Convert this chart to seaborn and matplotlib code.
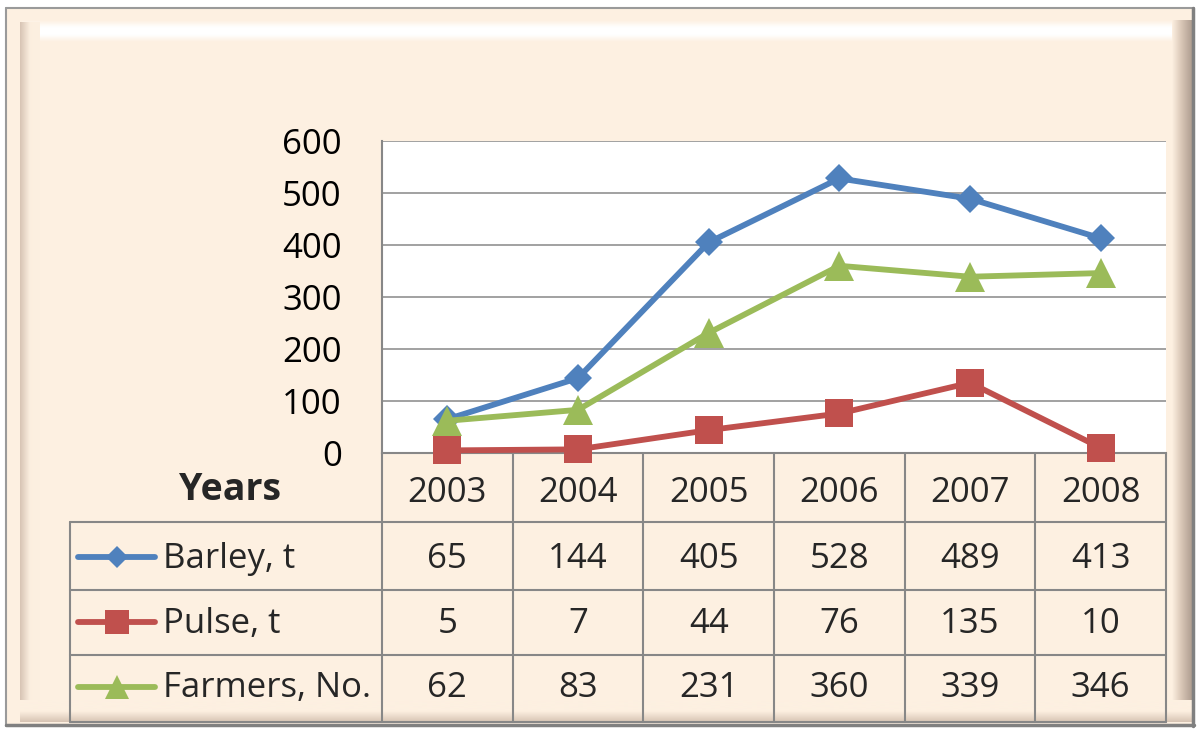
import numpy as np
import pandas as pd
import matplotlib
matplotlib.use("Agg")
import matplotlib.pyplot as plt
from matplotlib.lines import Line2D
import seaborn as sns

# ---------------- data ----------------
years = ["2003", "2004", "2005", "2006", "2007", "2008"]
series_names = ["Barley, t", "Pulse, t", "Farmers, No."]
barley = [65, 144, 405, 528, 489, 413]
pulse = [5, 7, 44, 76, 135, 10]
farmers = [62, 83, 231, 360, 339, 346]
y_ticks = [0, 100, 200, 300, 400, 500, 600]
header_label = "Years"

series_values = [barley, pulse, farmers]
colors = ["#4F81BD", "#C0504D", "#9BBB59"]
markers = ["D", "s", "^"]
msizes = [14.5, 20.5, 21]
leg_msizes = [11, 17, 17]

sns.set_style("white")
plt.rcParams["font.family"] = ["Open Sans", "DejaVu Sans"]

W, H = 1203, 733
fig = plt.figure(figsize=(W / 100, H / 100), dpi=100)
fig.patch.set_facecolor("white")

# background axes in pixel coordinates
bg = fig.add_axes([0, 0, 1, 1], zorder=0)
bg.set_xlim(0, W)
bg.set_ylim(H, 0)
bg.axis("off")

BEIGE = np.array([253, 240, 225]) / 255.0

# outer frame fill
bg.add_patch(plt.Rectangle((6, 8), 1188, 717, facecolor=BEIGE, edgecolor="none", zorder=0))


def grad_img(c_list, n=64, vertical=True):
    c = np.array(c_list)
    t = np.linspace(0, 1, n)
    pos = np.linspace(0, 1, len(c))
    arr = np.stack([np.interp(t, pos, c[:, k]) for k in range(3)], axis=-1)
    if vertical:
        return arr[:, None, :]
    return arr[None, :, :]


white = np.array([1.0, 1.0, 1.0])
tan = np.array([215, 196, 180]) / 255.0
dtan = np.array([175, 158, 145]) / 255.0
# top highlight band
bg.imshow(grad_img([BEIGE, white, white, BEIGE]), extent=(22, 1172, 42, 20),
          aspect="auto", origin="upper", zorder=1, interpolation="bilinear")
# left band
bg.imshow(grad_img([tan, BEIGE * 0.97 + 0.03 * tan, BEIGE], vertical=False), extent=(20, 40, 705, 22),
          aspect="auto", origin="upper", zorder=1, interpolation="bilinear")
# right band
bg.imshow(grad_img([BEIGE, tan, dtan], vertical=False), extent=(1172, 1192, 722, 20),
          aspect="auto", origin="upper", zorder=1, interpolation="bilinear")
# bottom band
bg.imshow(grad_img([BEIGE, BEIGE, tan]), extent=(20, 1192, 722, 700),
          aspect="auto", origin="upper", zorder=1, interpolation="bilinear")

frame_gray = "#808080"
bg.plot([6, 1194], [8, 8], color="#9a9a9a", lw=1.5, zorder=2)
bg.plot([6, 6], [8, 726], color="#9a9a9a", lw=1.5, zorder=2)
bg.plot([1193, 1193], [8, 726], color=frame_gray, lw=2.5, zorder=2)
bg.plot([6, 1194], [725, 725], color=frame_gray, lw=2.5, zorder=2)

# ---------------- main plot ----------------
L, R, T, B = 382, 1166, 141, 453
ax = fig.add_axes([L / W, 1 - B / H, (R - L) / W, (B - T) / H], zorder=2)
ax.set_facecolor("white")

for name, vals, col, mk, ms in zip(series_names, series_values, colors, markers, msizes):
    df = pd.DataFrame({"x": np.arange(len(years)), "y": vals})
    sns.lineplot(data=df, x="x", y="y", ax=ax, color=col, marker=mk, markersize=ms,
                 markeredgecolor=col, markeredgewidth=0, linewidth=4.2, clip_on=False,
                 legend=False, zorder=5)

ax.set_xlim(-0.5, len(years) - 0.5)
ax.set_ylim(y_ticks[0], y_ticks[-1])
ax.set_yticks(y_ticks)
ax.set_yticklabels([str(v) for v in y_ticks])
ax.set_xticks([])
ax.set_xlabel("")
ax.set_ylabel("")
grid_gray = "#878787"
ax.grid(axis="y", color=grid_gray, linewidth=1.1)
ax.set_axisbelow(True)
for s in ["top", "right"]:
    ax.spines[s].set_visible(False)
for s in ["left", "bottom"]:
    ax.spines[s].set_color(grid_gray)
    ax.spines[s].set_linewidth(1.5)
ax.tick_params(axis="y", length=0, pad=29, labelsize=25, labelcolor="black")

# ---------------- data table ----------------
ncol = len(years)
cw = (R - L) / ncol
row_edges = [B, 522, 590, 655, 722]
tab_left = 70
lc = grid_gray
lw = 1.5
# vertical column lines
for i in range(ncol + 1):
    x = L + i * cw
    bg.plot([x, x], [B, row_edges[-1]], color=lc, lw=lw, zorder=3)
bg.plot([tab_left, tab_left], [row_edges[1], row_edges[-1]], color=lc, lw=lw, zorder=3)
for y in row_edges[1:]:
    bg.plot([tab_left, R], [y, y], color=lc, lw=lw, zorder=3)

fs = 25
# header
bg.text(230, 500, header_label, fontsize=27, fontweight="bold", ha="center", va="baseline", zorder=4)
for i, yr in enumerate(years):
    bg.text(L + (i + 0.5) * cw, 502, yr, fontsize=fs, ha="center", va="baseline", zorder=4)

baselines = [568, 633, 697]
centers = [557, 622, 687]
for name, vals, col, mk, lms, bl, cy in zip(series_names, series_values, colors, markers,
                                            leg_msizes, baselines, centers):
    bg.add_line(Line2D([78, 117, 155], [cy, cy, cy], color=col, lw=4.2, marker=mk,
                       markersize=lms, markeredgewidth=0, markevery=[1], zorder=4,
                       solid_capstyle="round"))
    bg.text(163, bl, name, fontsize=fs, ha="left", va="baseline", zorder=4)
    for i, v in enumerate(vals):
        bg.text(L + (i + 0.5) * cw, bl, str(v), fontsize=fs, ha="center", va="baseline", zorder=4)

fig.savefig("out.png", dpi=100, facecolor=fig.get_facecolor())
